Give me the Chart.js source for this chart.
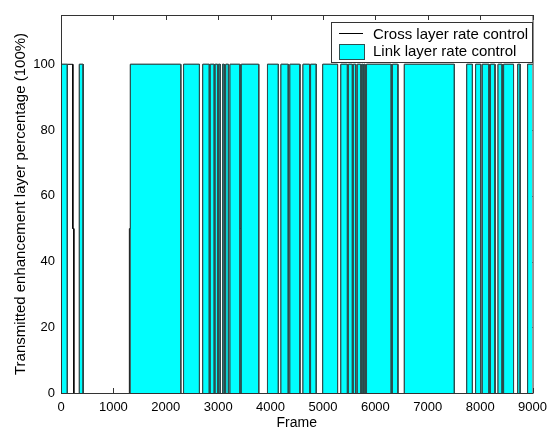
<!DOCTYPE html>
<html>
<head>
<meta charset="utf-8">
<script src="https://cdn.jsdelivr.net/npm/chart.js@4"></script>
<style>
  html, body { margin: 0; padding: 0; background: #fff; }
</style>
</head>
<body>
<canvas id="frameChart" width="554" height="431"></canvas>
<script>
// frames where the link layer scheme sends the enhancement layer (100%)
var linkOn = [[0,120],[350,420],[1324,2284],[2340,2642],[2706,2830],[2849,2924],[2943,2988],
  [3006,3037],[3083,3113],[3145,3195],[3226,3414],[3440,3772],[3941,4148],[4199,4337],
  [4369,4557],[4619,4745],[4764,4871],[4996,5278],[5342,5466],[5485,5561],[5580,5624],
  [5655,5719],[5740,5762],[5780,5800],[5832,6302],[6327,6427],[6553,7507],[7745,7852],
  [7914,8009],[8041,8167],[8197,8280],[8342,8417],[8449,8637],[8718,8762],[8907,9000]];

// cross layer scheme: frames at 100% and frames at 50%
var crossOn = [[0,226],[350,420],[1324,2284],[2340,2642],[2706,2830],[2849,2924],[2943,2988],
  [3006,3037],[3083,3113],[3145,3195],[3226,3414],[3445,3772],[3941,4148],[4199,4337],
  [4369,4557],[4619,4745],[4764,4871],[4996,5278],[5342,5466],[5485,5561],[5580,5624],
  [5655,5719],[5740,5762],[5780,5800],[5832,6302],[6327,6427],[6553,7507],[7745,7852],
  [7914,8009],[8041,8167],[8197,8280],[8342,8417],[8449,8637],[8718,8762],[8907,9000]];
var crossHalf = [[226,245],[1305,1324],[3414,3440]];

var xTicks = [0,1000,2000,3000,4000,5000,6000,7000,8000,9000];
var yTicks = [0,20,40,60,80,100];

// turn level segments into a staircase with explicit corners
function toSteps(on, half) {
  var segs = on.map(function (s) { return [s[0], s[1], 100]; });
  (half || []).forEach(function (s) { segs.push([s[0], s[1], 50]); });
  segs.sort(function (a, b) { return a[0] - b[0]; });
  var pts = [{x: 0, y: 0}], cur = 0, last = 0;
  segs.forEach(function (s) {
    if (s[0] > last && cur !== 0) {
      pts.push({x: last, y: cur}, {x: last, y: 0});
      cur = 0;
    }
    if (s[2] !== cur) {
      pts.push({x: s[0], y: cur}, {x: s[0], y: s[2]});
      cur = s[2];
    }
    last = s[1];
  });
  pts.push({x: last, y: cur});
  if (last < 9000) pts.push({x: last, y: 0}, {x: 9000, y: 0});
  return pts;
}

// no stroke along the zero line, the axis is there
var hideBase = {
  borderColor: function (c) {
    return (c.p0.parsed.y === 0 && c.p1.parsed.y === 0) ? 'rgba(0,0,0,0)' : undefined;
  }
};

var font = "'Liberation Sans', Arial, sans-serif";

var boxPlugin = {
  id: 'matlabBox',
  beforeDatasetsDraw: function (chart) {
    var ctx = chart.ctx, a = chart.chartArea;
    var xs = chart.scales.x, ys = chart.scales.y;
    ctx.save();
    ctx.strokeStyle = '#333';
    ctx.lineWidth = 1;
    ctx.beginPath();
    xTicks.forEach(function (v) {
      var px = Math.round(xs.getPixelForValue(v)) + 0.5;
      ctx.moveTo(px, a.bottom); ctx.lineTo(px, a.bottom - 5);
      ctx.moveTo(px, a.top); ctx.lineTo(px, a.top + 5);
    });
    yTicks.forEach(function (v) {
      var py = Math.round(ys.getPixelForValue(v)) + 0.5;
      ctx.moveTo(a.left, py); ctx.lineTo(a.left + 5, py);
      ctx.moveTo(a.right, py); ctx.lineTo(a.right - 5, py);
    });
    ctx.stroke();
    ctx.restore();
  },
  afterDraw: function (chart) {
    var ctx = chart.ctx, a = chart.chartArea;
    var ds = chart.data.datasets;
    ctx.save();
    ctx.strokeStyle = '#333';
    ctx.lineWidth = 1;
    ctx.strokeRect(a.left + 0.5, a.top + 0.5, a.right - a.left, a.bottom - a.top);
    // legend box in the upper right corner
    var lx = 331, ly = 22, lw = 201, lh = 40;
    ctx.fillStyle = '#fff';
    ctx.fillRect(lx, ly, lw, lh);
    ctx.strokeRect(lx + 0.5, ly + 0.5, lw, lh);
    ctx.strokeStyle = ds[0].borderColor;
    ctx.beginPath();
    ctx.moveTo(339, 33.5); ctx.lineTo(363, 33.5);
    ctx.stroke();
    ctx.fillStyle = ds[1].backgroundColor;
    ctx.fillRect(339.5, 44.5, 25, 15);
    ctx.strokeStyle = ds[1].borderColor;
    ctx.strokeRect(339.5, 44.5, 25, 15);
    ctx.fillStyle = '#000';
    ctx.font = '15px ' + font;
    ctx.textBaseline = 'alphabetic';
    ctx.fillText(ds[0].label, 373, 38.5);
    ctx.fillText(ds[1].label, 373, 56);
    ctx.restore();
  }
};

new Chart(document.getElementById('frameChart'), {
  type: 'line',
  data: {
    datasets: [{
      label: 'Cross layer rate control',
      data: toSteps(crossOn, crossHalf),
      order: 1,
      borderColor: '#000',
      borderWidth: 1,
      pointRadius: 0,
      tension: 0,
      segment: hideBase,
      fill: false
    }, {
      label: 'Link layer rate control',
      data: toSteps(linkOn),
      order: 0,
      borderColor: '#2f5050',
      borderWidth: 1,
      backgroundColor: '#00ffff',
      pointRadius: 0,
      tension: 0,
      segment: hideBase,
      fill: 'origin'
    }]
  },
  options: {
    responsive: false,
    animation: false,
    layout: { padding: { top: 15, right: 15, left: 0, bottom: 0 } },
    plugins: { legend: { display: false }, tooltip: { enabled: false } },
    scales: {
      x: {
        type: 'linear', min: 0, max: 9000,
        afterFit: function (s) { s.height = 38; },
        afterBuildTicks: function (s) { s.ticks = xTicks.map(function (v) { return {value: v}; }); },
        grid: { display: false, drawTicks: false, tickLength: 0 },
        border: { display: false },
        ticks: { color: '#000', padding: 7, maxRotation: 0, font: { family: font, size: 13 },
                 callback: function (v) { return String(v); } },
        title: { display: true, text: 'Frame', color: '#000', padding: { top: 0, bottom: 1 },
                 font: { family: font, size: 14, lineHeight: 1 } }
      },
      y: {
        min: 0, max: 115,
        afterFit: function (s) { s.width = 61; },
        afterBuildTicks: function (s) { s.ticks = yTicks.map(function (v) { return {value: v}; }); },
        grid: { display: false, drawTicks: false, tickLength: 0 },
        border: { display: false },
        ticks: { color: '#000', padding: 6, font: { family: font, size: 13 },
                 callback: function (v) { return String(v); } },
        title: { display: true, text: 'Transmitted enhancement layer percentage (100%)', color: '#000',
                 padding: { top: 13, bottom: 0 }, font: { family: font, size: 15, lineHeight: 1 } }
      }
    }
  },
  plugins: [boxPlugin]
});
</script>
</body>
</html>
